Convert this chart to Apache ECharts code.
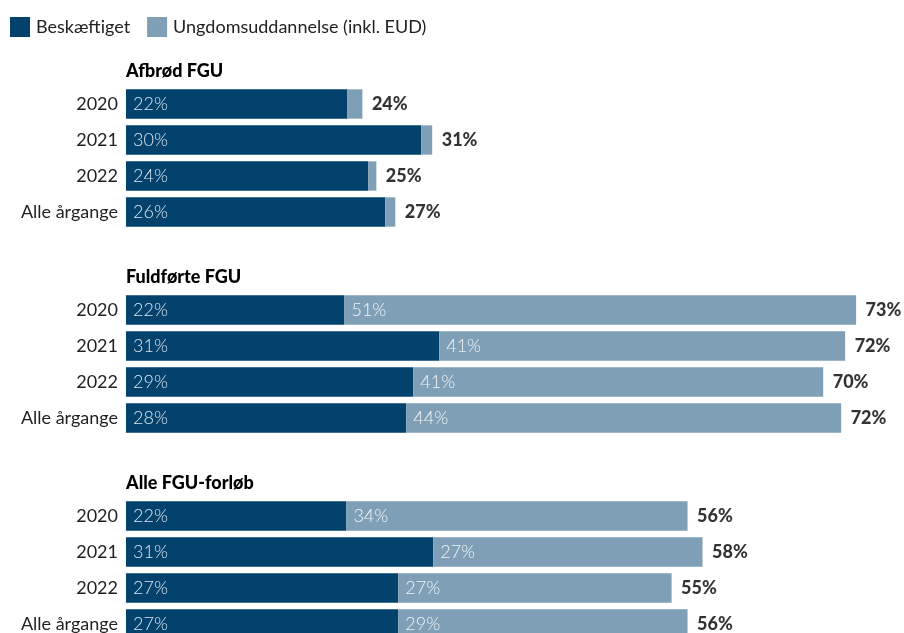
<!DOCTYPE html>
<html>
<head>
<meta charset="utf-8">
<script src="https://cdn.jsdelivr.net/npm/echarts@6/dist/echarts.min.js"></script>
<style>html,body{margin:0;padding:0;background:#fff;overflow:hidden}#c{width:904px;height:660px}</style>
</head>
<body>
<div id="c"></div>
<script>
const categories = ['2020', '2021', '2022', 'Alle årgange'];
const groupTitles = ['Afbrød FGU', 'Fuldførte FGU', 'Alle FGU-forløb'];
const seriesNames = ['Beskæftiget', 'Ungdomsuddannelse (inkl. EUD)'];
const employedAfbrod = [22.2, 29.6, 24.3, 26.0];
const educationAfbrod = [1.5, 1.1, 0.8, 1.0];
const employedFuldfort = [21.9, 31.4, 28.8, 28.1];
const educationFuldfort = [51.3, 40.7, 41.1, 43.6];
const employedAlle = [22.1, 30.8, 27.3, 27.3];
const educationAlle = [34.2, 27.0, 27.4, 29.0];

const employed = [employedAfbrod, employedFuldfort, employedAlle];
const education = [educationAfbrod, educationFuldfort, educationAlle];
const showEduLabel = [false, true, true];

const DARK = '#02426c';
const LIGHT = '#7e9fb5';
const FONT = 'Lato';
const FS = 18;
const gridTops = [86, 292, 498];
const titleY = [71, 277, 483];

const grids = [], xAxes = [], yAxes = [], series = [], graphics = [];
for (let g = 0; g < 3; g++) {
  grids.push({left: 126, width: 780, top: gridTops[g], height: 144});
  xAxes.push({type: 'value', gridIndex: g, min: 0, max: 78, show: false});
  yAxes.push({
    type: 'category', gridIndex: g, data: categories, inverse: true,
    axisLine: {show: false}, axisTick: {show: false},
    axisLabel: {color: '#222', fontFamily: FONT, fontSize: FS, margin: 8}
  });
  const pct = p => Math.round(p.value) + '%';
  series.push({
    name: seriesNames[0], type: 'bar', stack: 's' + g, xAxisIndex: g, yAxisIndex: g,
    data: employed[g], barCategoryGap: '18.5%', itemStyle: {color: DARK},
    label: {show: true, position: 'insideLeft', distance: 7, color: '#dce5ee',
      fontFamily: FONT, fontWeight: 300, fontSize: FS, formatter: pct},
    silent: true
  });
  series.push({
    name: seriesNames[1], type: 'bar', stack: 's' + g, xAxisIndex: g, yAxisIndex: g,
    data: education[g], barCategoryGap: '18.5%', itemStyle: {color: LIGHT},
    label: {show: showEduLabel[g], position: 'insideLeft', distance: 7, color: '#f2f5f8',
      fontFamily: FONT, fontWeight: 300, fontSize: FS, formatter: pct},
    silent: true
  });
  series.push({
    type: 'scatter', xAxisIndex: g, yAxisIndex: g, symbolSize: 1,
    itemStyle: {color: 'rgba(0,0,0,0)'},
    data: employed[g].map((v, i) => [v + education[g][i], i]),
    label: {show: true, position: 'right', distance: 9, color: '#000',
      fontFamily: FONT, fontWeight: 900, fontSize: FS,
      formatter: p => Math.round(p.value[0]) + '%'},
    silent: true
  });
  graphics.push({type: 'text', x: 126, y: titleY[g],
    style: {text: groupTitles[g], fill: '#000', font: '900 ' + FS + 'px ' + FONT, verticalAlign: 'middle'}});
}

const chart = echarts.init(document.getElementById('c'));
chart.setOption({
  animation: false,
  legend: {
    data: seriesNames, left: 10, top: 17, padding: 0, itemWidth: 20, itemHeight: 20, itemGap: 17,
    icon: 'rect', selectedMode: false,
    textStyle: {color: '#222', fontFamily: FONT, fontSize: FS, padding: [0, 0, 0, 1]}
  },
  grid: grids, xAxis: xAxes, yAxis: yAxes, series: series, graphic: graphics
});
</script>
</body>
</html>
